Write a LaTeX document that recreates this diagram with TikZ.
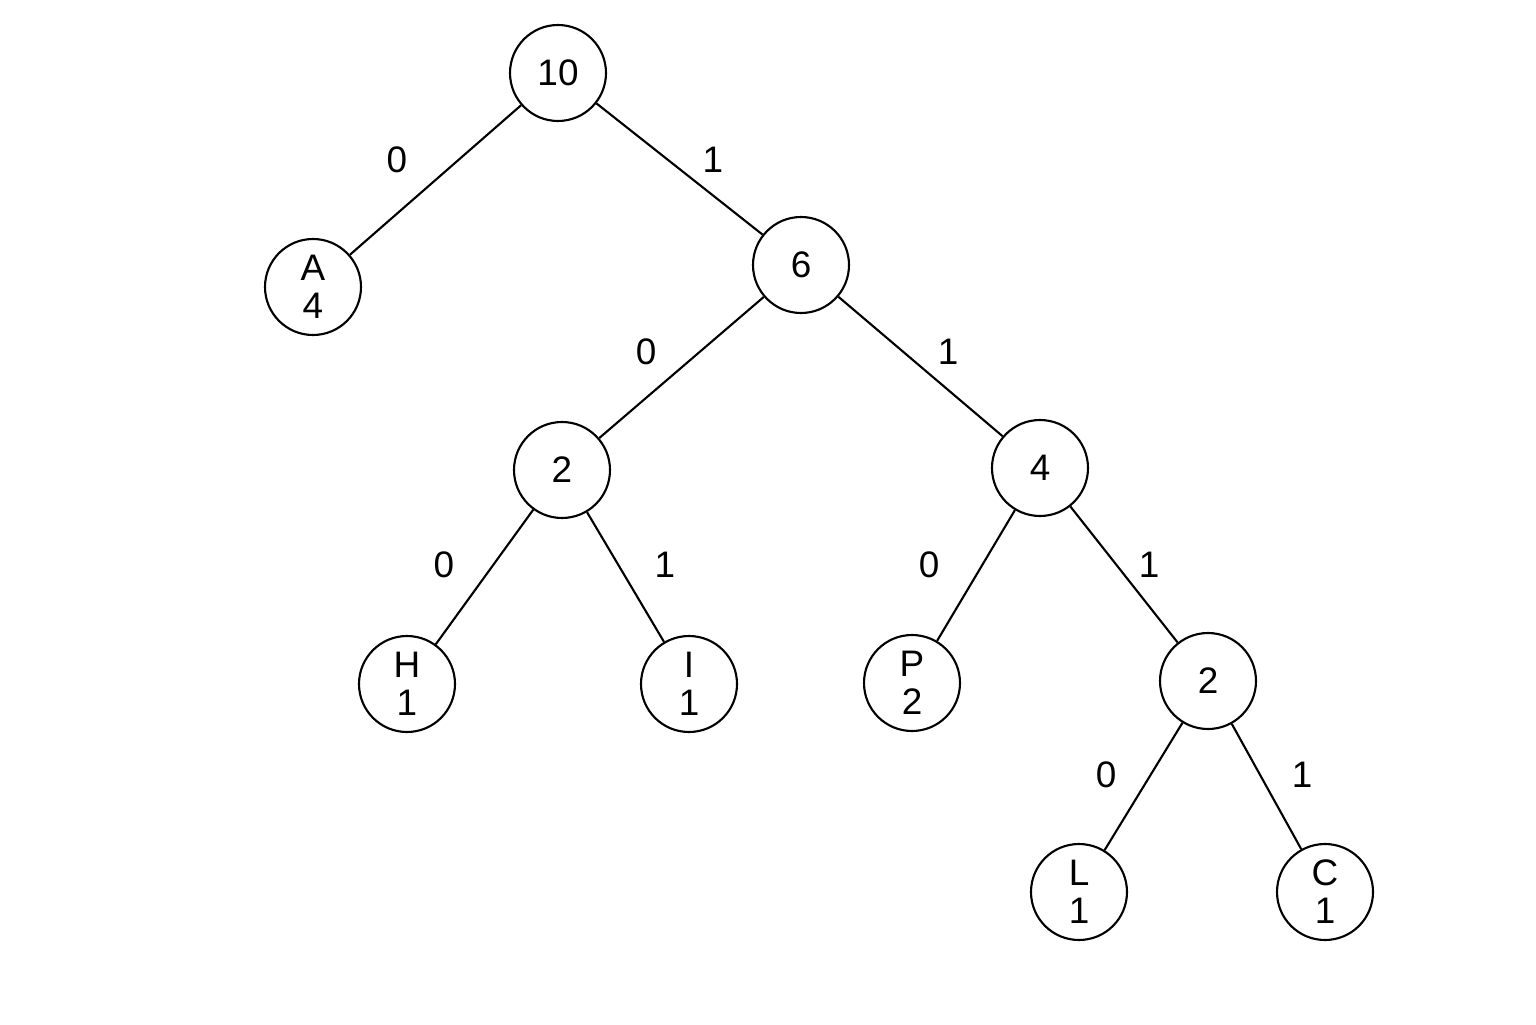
\documentclass[tikz,border=0pt]{standalone}
\usepackage{fontspec}
\setmainfont{Liberation Sans}
\begin{document}
\begin{tikzpicture}
    [
    point/.style={circle,draw,line width=0.6pt,minimum size=0.96cm,inner sep=0pt,align=center,font=\fontsize{10.5}{10.8}\selectfont},
    bit/.style={font=\fontsize{10.5}{12}\selectfont},
    every path/.style={line width=0.6pt}
    ]
    \useasboundingbox (0,0) rectangle (15.36,10.24);
    \node (r) at (5.58,9.51) [point] {10};
    \node (a) at (3.13,7.37) [point] {A\\4};
    \node (n6) at (8.01,7.59) [point] {6};
    \node (n2) at (5.62,5.54) [point] {2};
    \node (n4) at (10.40,5.56) [point] {4};
    \node (h) at (4.07,3.40) [point] {H\\1};
    \node (i) at (6.89,3.40) [point] {I\\1};
    \node (p) at (9.12,3.41) [point] {P\\2};
    \node (m2) at (12.08,3.43) [point] {2};
    \node (l) at (10.79,1.32) [point] {L\\1};
    \node (c) at (13.25,1.32) [point] {C\\1};
    \draw (r) -- (a);
    \draw (r) -- (n6);
    \draw (n6) -- (n2);
    \draw (n6) -- (n4);
    \draw (n2) -- (h);
    \draw (n2) -- (i);
    \draw (n4) -- (p);
    \draw (n4) -- (m2);
    \draw (m2) -- (l);
    \draw (m2) -- (c);
    \node (b1) at (3.97,8.64) [bit] {0};
    \node (b2) at (7.13,8.64) [bit] {1};
    \node (b3) at (6.46,6.72) [bit] {0};
    \node (b4) at (9.48,6.72) [bit] {1};
    \node (b5) at (4.44,4.59) [bit] {0};
    \node (b6) at (6.65,4.59) [bit] {1};
    \node (b7) at (9.29,4.59) [bit] {0};
    \node (b8) at (11.49,4.59) [bit] {1};
    \node (b9) at (11.06,2.49) [bit] {0};
    \node (b10) at (13.02,2.49) [bit] {1};
\end{tikzpicture}
\end{document}
